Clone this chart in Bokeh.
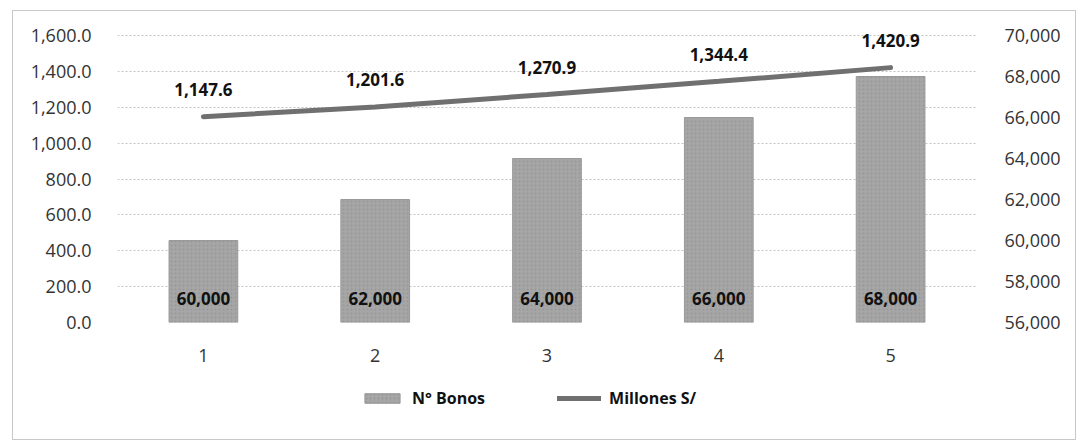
from bokeh.plotting import figure
from bokeh.layouts import column
from bokeh.models import (Range1d, LinearAxis, NumeralTickFormatter, FixedTicker,
                          Legend, LegendItem, ColumnDataSource, LabelSet)
from bokeh.core.properties import value
from bokeh.embed import file_html
from bokeh.resources import INLINE

categories = [1, 2, 3, 4, 5]
n_bonos = [60000, 62000, 64000, 66000, 68000]
millones = [1147.6, 1201.6, 1270.9, 1344.4, 1420.9]
left_ticks = [0, 200, 400, 600, 800, 1000, 1200, 1400, 1600]
right_ticks = [56000, 58000, 60000, 62000, 64000, 66000, 68000, 70000]
series_names = ["N° Bonos", "Millones S/"]

FONT = "Open Sans"
TXT = "#333333"
BAR_STYLE = dict(fill_color="#a6a6a6", line_color="#9a9a9a",
                 hatch_pattern="dot", hatch_color="#8c8c8c", hatch_scale=4, hatch_alpha=0.6)
LINE_STYLE = dict(line_color="#707070", line_width=5, line_cap="round")

src = ColumnDataSource(dict(
    x=categories,
    bonos=n_bonos,
    base=[right_ticks[0]] * len(categories),
    bonos_lbl=[f"{v:,}" for v in n_bonos],
    mill=millones,
    mill_lbl=[f"{v:,.1f}" for v in millones],
))

# frame is extended 10px above the top gridline so that labels there are not clipped
EXTRA = 10.0 / 287.0
left_max = left_ticks[-1] + (left_ticks[-1] - left_ticks[0]) * EXTRA
right_max = right_ticks[-1] + (right_ticks[-1] - right_ticks[0]) * EXTRA

p = figure(width=1062, height=365,
           x_range=Range1d(0.5, 5.5), y_range=Range1d(left_ticks[0], left_max),
           output_backend="svg", toolbar_location=None,
           min_border_left=104, min_border_right=99, min_border_top=14, min_border_bottom=54)
p.outline_line_color = None
p.background_fill_color = "white"
p.border_fill_color = "white"

p.extra_y_ranges = {"right": Range1d(right_ticks[0], right_max)}

# grid
p.xgrid.visible = False
p.ygrid.ticker = FixedTicker(ticks=left_ticks)
p.ygrid.grid_line_color = "#c4c4c4"
p.ygrid.grid_line_dash = "2 2"
p.ygrid.grid_line_width = 1

def style_axis(ax, standoff):
    ax.axis_line_color = None
    ax.major_tick_line_color = None
    ax.minor_tick_line_color = None
    ax.major_label_text_font = FONT
    ax.major_label_text_font_size = "18px"
    ax.major_label_text_color = TXT
    ax.major_label_standoff = standoff

yl = p.yaxis[0]
yl.ticker = FixedTicker(ticks=left_ticks)
yl.formatter = NumeralTickFormatter(format="0,0.0")
style_axis(yl, 20)

xa = p.xaxis[0]
xa.ticker = FixedTicker(ticks=categories)
style_axis(xa, 20)

yr = LinearAxis(y_range_name="right", ticker=FixedTicker(ticks=right_ticks),
                formatter=NumeralTickFormatter(format="0,0"))
style_axis(yr, 22)
p.add_layout(yr, "right")

p.vbar(x="x", top="bonos", bottom="base", width=0.4, source=src,
       y_range_name="right", **BAR_STYLE)
p.line(x="x", y="mill", source=src, **LINE_STYLE)

bar_labels = LabelSet(x="x", y="base", text="bonos_lbl", source=src, y_range_name="right",
                      y_offset=24, text_align="center", text_baseline="middle",
                      text_font=value(FONT), text_font_size=value("17px"),
                      text_font_style="bold", text_color="#111111")
p.add_layout(bar_labels)

line_labels = LabelSet(x="x", y="mill", text="mill_lbl", source=src,
                       y_offset=27, text_align="center", text_baseline="middle",
                       text_font=value(FONT), text_font_size=value("17px"),
                       text_font_style="bold", text_color="#111111")
p.add_layout(line_labels)

# legend strip below the chart (its renderers are hidden; only the legend is shown)
lg = figure(width=1062, height=63, x_range=Range1d(0.5, 5.5), y_range=Range1d(0, 1),
            x_axis_type=None, y_axis_type=None,
            output_backend="svg", toolbar_location=None, min_border=0)
lg.grid.visible = False
lg.outline_line_color = None
lg.border_fill_color = "white"
r_bar = lg.vbar(x="x", top="bonos", bottom="base", width=0.4, source=src, **BAR_STYLE)
r_line = lg.line(x="x", y="mill", source=src, **LINE_STYLE)
r_bar.visible = False
r_line.visible = False
legend = Legend(items=[LegendItem(label=series_names[0], renderers=[r_bar]),
                       LegendItem(label=series_names[1], renderers=[r_line])],
                orientation="horizontal", location=(243, 30),
                label_text_font=FONT, label_text_font_size="16px",
                label_text_font_style="bold", label_text_color="#111111",
                glyph_width=44, glyph_height=12, label_standoff=8, spacing=72,
                inactive_fill_alpha=0, border_line_color=None,
                background_fill_alpha=0, margin=0)
lg.add_layout(legend, "center")

layout = column(p, lg, spacing=0, margin=(10, 4, 4, 12),
                styles={"border": "1px solid #c8c8c8"})
open("out.html", "w").write(file_html(layout, INLINE))
